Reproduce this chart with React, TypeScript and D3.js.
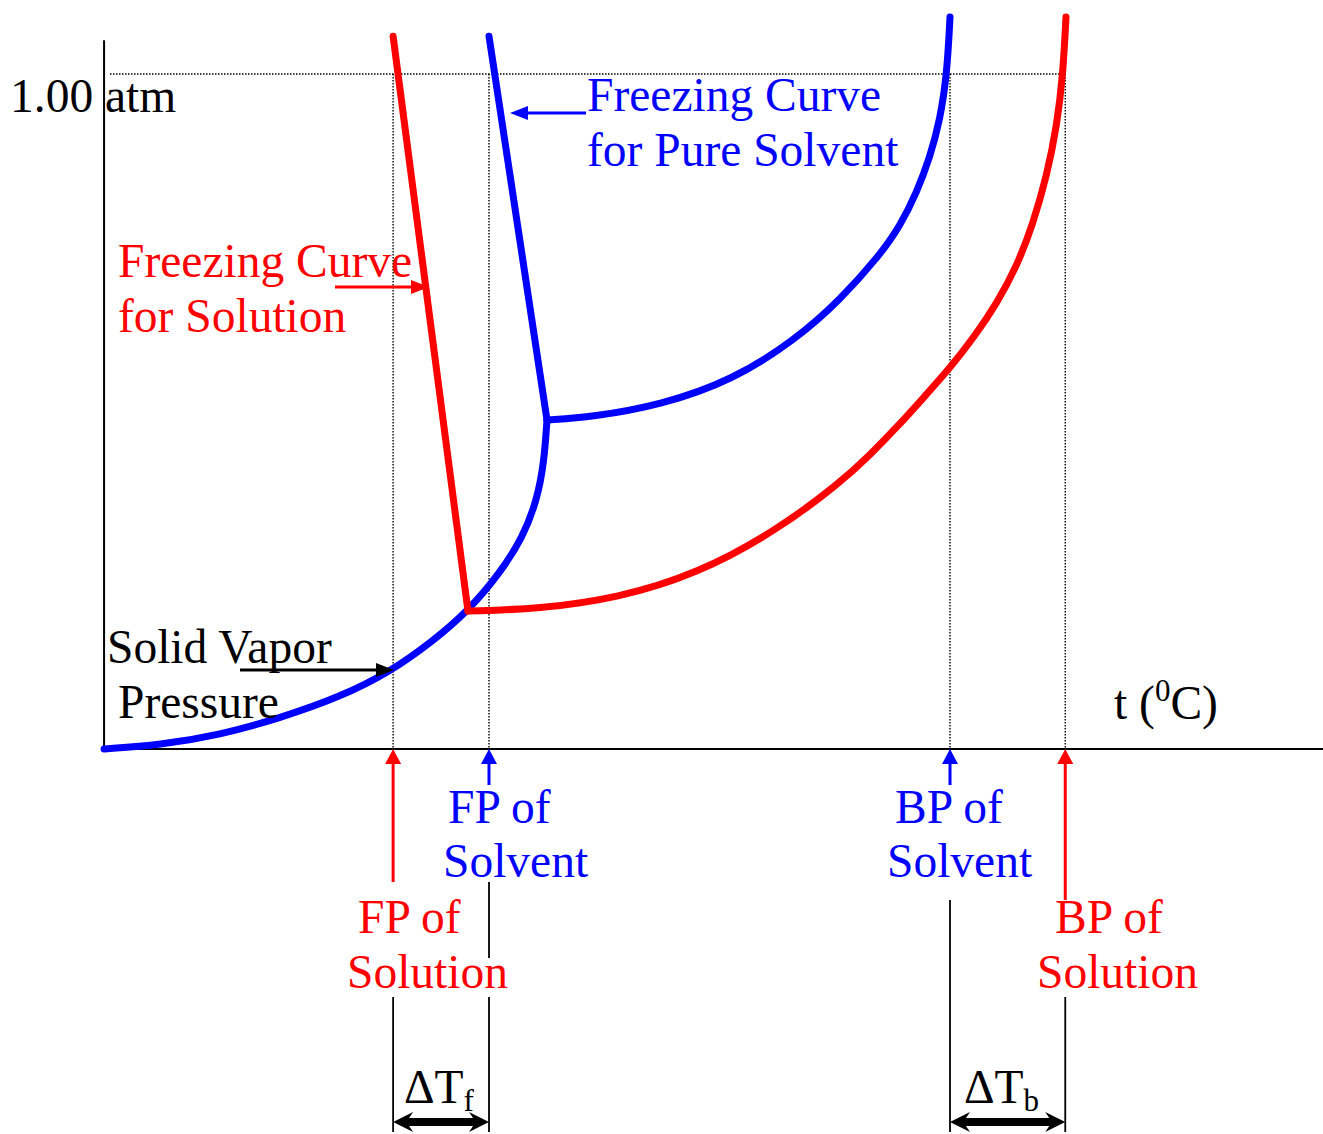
import React from "react";
import * as d3 from "d3";

// ---- Data (t in arbitrary °C-like units: FP solvent = 0, BP solvent = 100; P in atm) ----
const solidVaporT = [-83.5, -71.4, -58.4, -45.3, -32.3, -21.5, -12.15, -4.56, 2.39, 7.38, 10.41, 11.93, 12.58];
const solidVaporP = [0, 0.0059, 0.0207, 0.0459, 0.077, 0.1141, 0.16, 0.2044, 0.2607, 0.3141, 0.3689, 0.4237, 0.4874];

const solventFusionT = [12.58, 0];
const solventFusionP = [0.4874, 1.056];

const solutionFusionT = [-4.56, -20.8];
const solutionFusionP = [0.2044, 1.056];

const solventVapT = [12.58, 22.34, 37.31, 52.93, 66.38, 76.14, 84.82, 89.15, 92.84, 95.66, 97.83, 99.35, 100];
const solventVapP = [0.4874, 0.4919, 0.5096, 0.5467, 0.6059, 0.6652, 0.7319, 0.7748, 0.8252, 0.877, 0.9319, 1.0, 1.0844];

const solutionVapT = [-4.56, 10.85, 27.98, 45.12, 62.26, 76.14, 82.65, 89.15, 94.58, 100, 105.42, 110.2, 114.53, 118.0, 121.04, 123.21, 124.51, 125.16];
const solutionVapP = [0.2044, 0.2074, 0.2237, 0.2593, 0.323, 0.3941, 0.4356, 0.4815, 0.523, 0.5644, 0.6119, 0.6607, 0.7156, 0.7778, 0.8504, 0.9244, 1.0, 1.0844];

const markerNames = ["FP of Solution", "FP of Solvent", "BP of Solvent", "BP of Solution"];
const markerT = [-20.8, 0, 100, 125];
const pressureRef = 1.0;
const axisTMin = -83.5;
const axisTMax = 181;
const axisPMax = 1.05;

const BLUE = "#0000ff";
const RED = "#ff0000";
const FONT = '"Liberation Serif", "Times New Roman", serif';

const zip = (a: number[], b: number[]) => a.map((v, i) => [v, b[i]] as [number, number]);

export default function App() {
  const W = 1323;
  const H = 1134;
  const x = d3.scaleLinear().domain([0, 100]).range([489, 950]);
  const y = d3.scaleLinear().domain([0, 1]).range([749, 74]);

  const line = d3
    .line<[number, number]>()
    .x((d) => x(d[0]))
    .y((d) => y(d[1]))
    .curve(d3.curveBasis);
  const straight = d3
    .line<[number, number]>()
    .x((d) => x(d[0]))
    .y((d) => y(d[1]));

  const x0 = x(axisTMin);
  const x1 = x(axisTMax);
  const yAxis = y(0);
  const yTop = y(axisPMax);
  const yRef = y(pressureRef);

  const [xFPsoln, xFPsolv, xBPsolv, xBPsoln] = markerT.map((t) => x(t));

  const upArrow = (xc: number, yStart: number, color: string) => (
    <g>
      <line x1={xc} x2={xc} y1={yStart} y2={yAxis + 12} stroke={color} strokeWidth={3} />
      <polygon points={`${xc},${yAxis} ${xc - 8},${yAxis + 15} ${xc + 8},${yAxis + 15}`} fill={color} />
    </g>
  );

  const hArrow = (xs: number, xt: number, yy: number, color: string) => {
    const dir = xt > xs ? 1 : -1;
    return (
      <g>
        <line x1={xs} x2={xt - dir * 12} y1={yy} y2={yy} stroke={color} strokeWidth={3} />
        <polygon
          points={`${xt},${yy} ${xt - dir * 18},${yy - 7} ${xt - dir * 18},${yy + 7}`}
          fill={color}
        />
      </g>
    );
  };

  const dblArrow = (xa: number, xb: number, yy: number) => {
    const hl = 20;
    const hh = 10;
    const sh = 4;
    const pts = [
      [xa, yy],
      [xa + hl, yy - hh],
      [xa + hl - 4, yy - sh],
      [xb - hl + 4, yy - sh],
      [xb - hl, yy - hh],
      [xb, yy],
      [xb - hl, yy + hh],
      [xb - hl + 4, yy + sh],
      [xa + hl - 4, yy + sh],
      [xa + hl, yy + hh],
    ];
    return <polygon points={pts.map((p) => p.join(",")).join(" ")} fill="#000" />;
  };

  const fs = 47.5;
  const sw = 7;

  return (
    <svg
      width={W}
      height={H}
      style={{ position: "absolute", left: 0, top: 0, background: "#fff" }}
      fontFamily={FONT}
    >
      <rect width={W} height={H} fill="#fff" />
      {/* dotted reference lines */}
      <line x1={110} x2={xBPsoln} y1={yRef} y2={yRef} stroke="#000" strokeWidth={1.4} strokeDasharray="1.5,1.5" />
      {markerT.map((t, i) => (
        <line
          key={markerNames[i]}
          x1={x(t)}
          x2={x(t)}
          y1={yRef}
          y2={yAxis}
          stroke="#000"
          strokeWidth={1.4}
          strokeDasharray="1.5,1.5"
        />
      ))}

      {/* axes */}
      <line x1={x0} x2={x0} y1={yTop} y2={yAxis} stroke="#000" strokeWidth={2} />
      <line x1={x0} x2={x1} y1={yAxis} y2={yAxis} stroke="#000" strokeWidth={2} />

      {/* blue curves (pure solvent) */}
      <g fill="none" stroke={BLUE} strokeWidth={sw} strokeLinecap="round" strokeLinejoin="round">
        <path d={line(zip(solidVaporT, solidVaporP)) || ""} />
        <path d={straight(zip(solventFusionT, solventFusionP)) || ""} />
        <path d={line(zip(solventVapT, solventVapP)) || ""} />
      </g>
      {/* red curves (solution) */}
      <g fill="none" stroke={RED} strokeWidth={sw} strokeLinecap="round" strokeLinejoin="miter">
        <path d={straight(zip(solutionFusionT, solutionFusionP)) || ""} />
        <path d={line(zip(solutionVapT, solutionVapP)) || ""} />
      </g>

      {/* labels */}
      <text x={10} y={112} fontSize={fs} fill="#000">1.00 atm</text>

      <text x={587} y={111} fontSize={fs} fill={BLUE}>Freezing Curve</text>
      <text x={587} y={166} fontSize={fs} fill={BLUE}>for Pure Solvent</text>
      {hArrow(586, 510, 113, BLUE)}

      <text x={118} y={277} fontSize={fs} fill={RED}>Freezing Curve</text>
      <text x={118} y={332} fontSize={fs} fill={RED}>for Solution</text>
      {hArrow(335, 429, 287, RED)}

      <text x={107} y={663} fontSize={fs} fill="#000">Solid Vapor</text>
      <text x={118} y={718} fontSize={fs} fill="#000">Pressure</text>
      {hArrow(240, 394, 670, "#000")}

      <text x={1114} y={719} fontSize={fs} fill="#000">
        t (<tspan fontSize={31} dy={-18}>0</tspan>
        <tspan dy={18}>C)</tspan>
      </text>

      {/* marker arrows below axis */}
      {upArrow(xFPsoln, 882, RED)}
      {upArrow(xFPsolv, 785, BLUE)}
      {upArrow(xBPsolv, 785, BLUE)}
      {upArrow(xBPsoln, 900, RED)}

      <text x={448} y={823} fontSize={fs} fill={BLUE}>FP of</text>
      <text x={443} y={877} fontSize={fs} fill={BLUE}>Solvent</text>
      <text x={358} y={933} fontSize={fs} fill={RED}>FP of</text>
      <text x={347} y={988} fontSize={fs} fill={RED}>Solution</text>
      <text x={895} y={823} fontSize={fs} fill={BLUE}>BP of</text>
      <text x={887} y={877} fontSize={fs} fill={BLUE}>Solvent</text>
      <text x={1055} y={933} fontSize={fs} fill={RED}>BP of</text>
      <text x={1037} y={988} fontSize={fs} fill={RED}>Solution</text>

      {/* black extension lines */}
      <g stroke="#000" strokeWidth={1.8}>
        <line x1={xFPsoln} x2={xFPsoln} y1={997} y2={1132} />
        <line x1={xFPsolv} x2={xFPsolv} y1={882} y2={958} />
        <line x1={xFPsolv} x2={xFPsolv} y1={997} y2={1132} />
        <line x1={xBPsolv} x2={xBPsolv} y1={900} y2={1132} />
        <line x1={xBPsoln} x2={xBPsoln} y1={997} y2={1132} />
      </g>

      {dblArrow(xFPsoln, xFPsolv, 1122)}
      {dblArrow(xBPsolv, xBPsoln, 1122)}

      <text x={404} y={1103} fontSize={fs} fill="#000">
        ΔT<tspan fontSize={31} dy={8}>f</tspan>
      </text>
      <text x={964} y={1103} fontSize={fs} fill="#000">
        ΔT<tspan fontSize={31} dy={8}>b</tspan>
      </text>
    </svg>
  );
}
